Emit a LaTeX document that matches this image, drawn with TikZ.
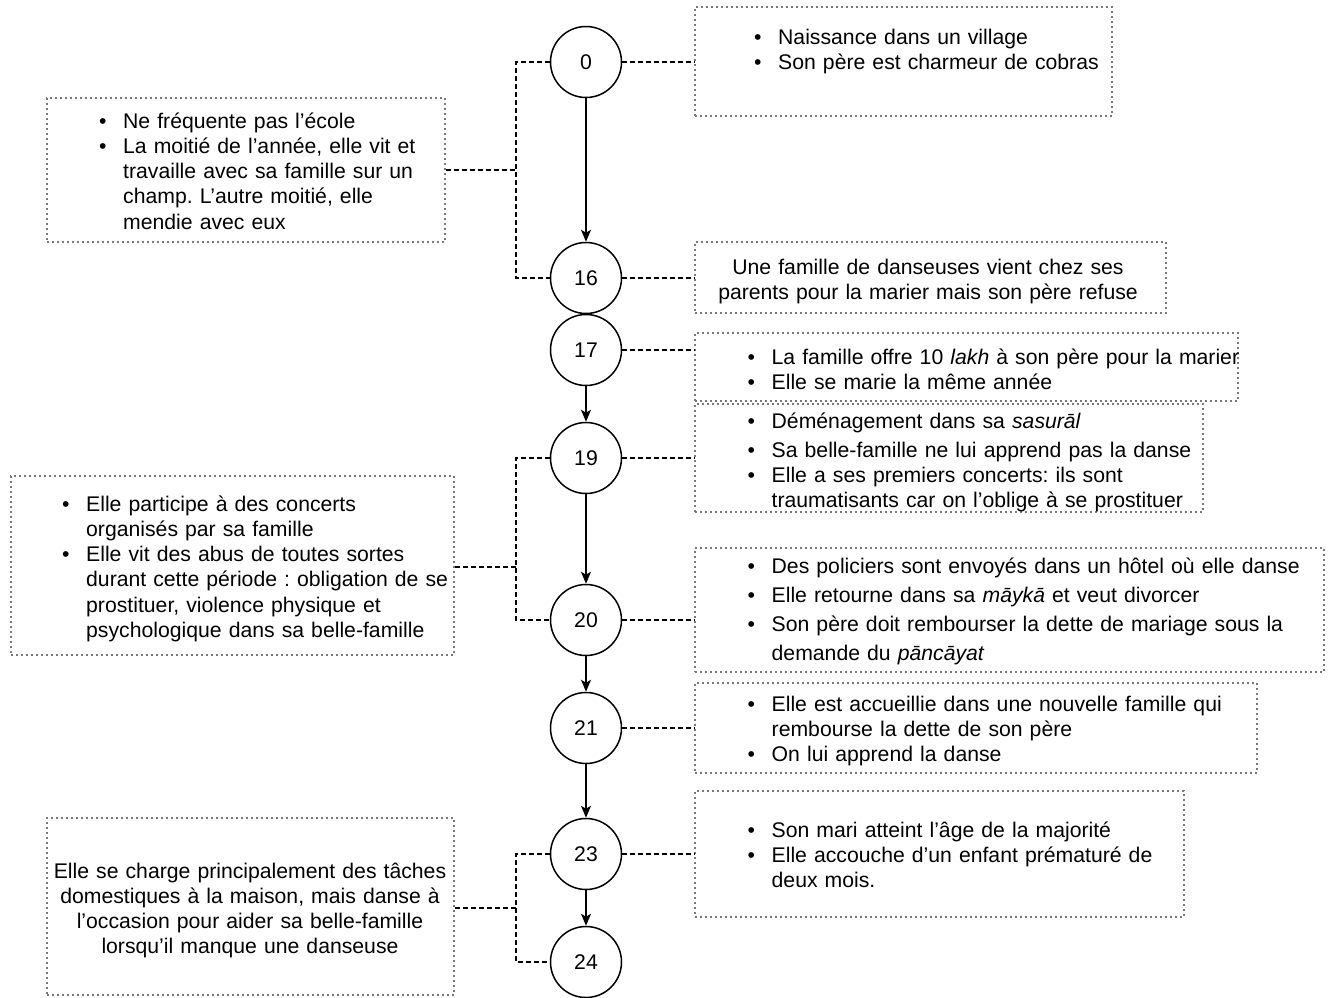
\documentclass[tikz,border=0pt]{standalone}
\usepackage{fontspec}
\setmainfont{Liberation Sans}
\usetikzlibrary{arrows.meta}
\definecolor{boxgray}{RGB}{120,120,120}
\newcommand{\puce}{\makebox[24pt][l]{\textbullet}}
\newcommand{\suite}{\hspace*{24pt}}
\frenchspacing

\begin{document}
\begin{tikzpicture}[x=1pt, y=-1pt,
	every node/.style={font=\fontsize{21.2}{25.3}\selectfont},
	age/.style={circle, draw, line width=1.5pt, minimum size=71pt, inner sep=0pt},
	evbox/.style={draw=boxgray, line width=1.3pt, dash pattern=on 2pt off 3pt, inner sep=0pt},
	evtext/.style={text width=600pt, align=left, inner sep=0pt, anchor=base west},
	evmid/.style={align=center, inner sep=0pt, anchor=base},
	fleche/.style={line width=1.5pt, -{Stealth[length=12pt, width=10pt, inset=3pt]}},
	lien/.style={line width=1.3pt, dash pattern=on 5pt off 3pt}]
			\useasboundingbox (0,0) rectangle (1330,997);
			\node (c0) at (586,62) [age] {0};
			\node (c16) at (586,278) [age] {16};
			\node (c17) at (586,350) [age] {17};
			\node (c19) at (586,458) [age] {19};
			\node (c20) at (586,620) [age] {20};
			\node (c21) at (586,728) [age] {21};
			\node (c23) at (586,854) [age] {23};
			\node (c24) at (586,962) [age] {24};
			\node (r0) at (903.5,61.5) [evbox, minimum width=417pt, minimum height=109pt] {};
			\node (r16) at (930.5,277.5) [evbox, minimum width=471pt, minimum height=71pt] {};
			\node (r17) at (966.5,367) [evbox, minimum width=543pt, minimum height=68pt] {};
			\node (r19) at (949,458) [evbox, minimum width=508pt, minimum height=108pt] {};
			\node (r20) at (1009.5,610) [evbox, minimum width=629pt, minimum height=124pt] {};
			\node (r21) at (976,728) [evbox, minimum width=562pt, minimum height=90pt] {};
			\node (r23) at (939.5,854) [evbox, minimum width=489pt, minimum height=126pt] {};
			\node (l1) at (246,170) [evbox, minimum width=398pt, minimum height=144pt] {};
			\node (l2) at (232.5,565.5) [evbox, minimum width=443pt, minimum height=179pt] {};
			\node (l3) at (250.5,906.5) [evbox, minimum width=407pt, minimum height=177pt] {};
			\node (t0) at (754,44) [evtext] {\puce Naissance dans un village\\
				\puce Son père est charmeur de cobras};
			\node (t16) at (928,274) [evmid, text width=470pt] {Une famille de danseuses vient chez ses\\
				parents pour la marier mais son père refuse};
			\node (t17) at (747.5,364) [evtext] {\puce La famille offre 10 \textit{lakh} à son père pour la marier\\
				\puce Elle se marie la même année};
			\node (t19) at (747.5,428) [evtext] {\puce Déménagement dans sa \textit{sasurāl}\\[4pt]
				\puce Sa belle-famille ne lui apprend pas la danse\\
				\puce Elle a ses premiers concerts: ils sont\\
				\suite traumatisants car on l'oblige à se prostituer};
			\node (t20) at (747.5,573) [evtext, font=\fontsize{21.2}{29}\selectfont] {\puce Des policiers sont envoyés dans un hôtel où elle danse\\
				\puce Elle retourne dans sa \textit{māykā} et veut divorcer\\
				\puce Son père doit rembourser la dette de mariage sous la\\
				\suite demande du \textit{pāncāyat}};
			\node (t21) at (747.5,711) [evtext] {\puce Elle est accueillie dans une nouvelle famille qui\\
				\suite rembourse la dette de son père\\
				\puce On lui apprend la danse};
			\node (t23) at (747.5,837) [evtext] {\puce Son mari atteint l'âge de la majorité\\
				\puce Elle accouche d'un enfant prématuré de\\
				\suite deux mois.};
			\node (tl1) at (99,128) [evtext] {\puce Ne fréquente pas l'école\\
				\puce La moitié de l'année, elle vit et\\
				\suite travaille avec sa famille sur un\\
				\suite champ. L'autre moitié, elle\\
				\suite mendie avec eux};
			\node (tl2) at (62,511) [evtext] {\puce Elle participe à des concerts\\
				\suite organisés par sa famille\\
				\puce Elle vit des abus de toutes sortes\\
				\suite durant cette période : obligation de se\\
				\suite prostituer, violence physique et\\
				\suite psychologique dans sa belle-famille};
			\node (tl3) at (250,878) [evmid, text width=405pt] {Elle se charge principalement des tâches\\
				domestiques à la maison, mais danse à\\
				l'occasion pour aider sa belle-famille\\
				lorsqu'il manque une danseuse};
			\draw[fleche] (c0) -- (c16);
			\draw[fleche] (c17) -- (c19);
			\draw[fleche] (c19) -- (c20);
			\draw[fleche] (c20) -- (c21);
			\draw[fleche] (c21) -- (c23);
			\draw[fleche] (c23) -- (c24);
			\coordinate (j1) at (516,170);
			\coordinate (j2) at (516,567);
			\coordinate (j3) at (516,908);
			\draw[lien] (c0.west) -| (j1) |- (c16.west);
			\draw[lien] (c19.west) -| (j2) |- (c20.west);
			\draw[lien] (c23.west) -| (j3) |- (c24.west);
			\draw[lien] (l1.east |- j1) -- (j1);
			\draw[lien] (l2.east |- j2) -- (j2);
			\draw[lien] (l3.east |- j3) -- (j3);
			\draw[lien] (c0.east) -- (c0.east -| r0.west);
			\draw[lien] (c16.east) -- (c16.east -| r16.west);
			\draw[lien] (c17.east) -- (c17.east -| r17.west);
			\draw[lien] (c19.east) -- (c19.east -| r19.west);
			\draw[lien] (c20.east) -- (c20.east -| r20.west);
			\draw[lien] (c21.east) -- (c21.east -| r21.west);
			\draw[lien] (c23.east) -- (c23.east -| r23.west);
			\end{tikzpicture}
\end{document}
